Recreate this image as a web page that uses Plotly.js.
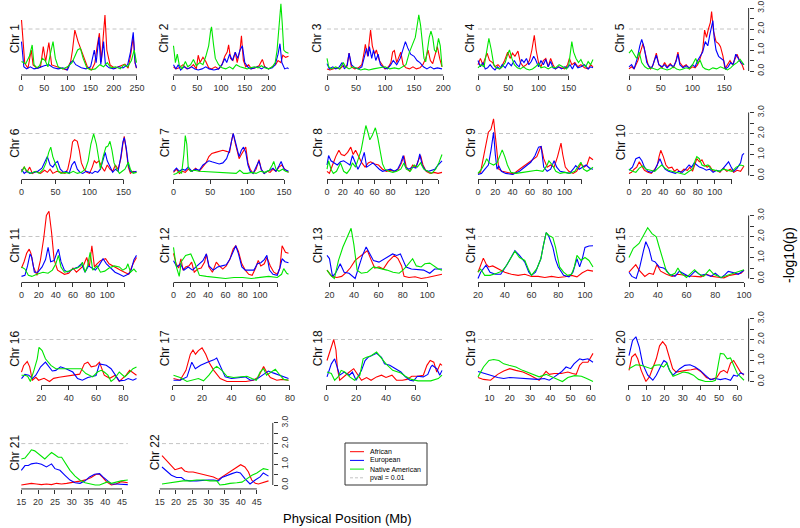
<!DOCTYPE html>
<html><head><meta charset="utf-8">
<script src="https://cdn.plot.ly/plotly-3.0.1.min.js"></script>
<style>html,body{margin:0;padding:0;background:#fff}#chart{width:800px;height:528px}</style>
</head><body><div id="chart"></div>
<script>
// ---- data: [position (Mb), -log10(p)] ----
const afr1=[[1,2.43],[8,0.37],[15,0.13],[22,1.0],[26,0.29],[35,0.13],[42,0.2],[48,1.16],[53,0.44],[60,1.35],[66,0.29],[76,0.2],[87,0.13],[98,0.05],[107,0.44],[111,1.0],[116,1.95],[123,1.4],[134,0.76],[143,0.2],[152,0.05],[159,0.37],[164,1.16],[169,1.8],[173,0.44],[177,1.48],[181,2.67],[185,1.0],[192,0.29],[202,0.13],[213,0.24],[224,0.33],[231,0.13],[237,0.84],[242,1.63],[246,0.37],[249,0.13]];
const eur1=[[1,1.4],[6,0.2],[12,0.1],[20,0.2],[28,0.1],[38,0.15],[50,0.25],[60,0.3],[70,0.15],[80,0.1],[90,0.15],[100,0.05],[107,0.4],[112,0.5],[118,0.3],[130,0.15],[140,0.1],[150,0.2],[155,0.7],[158,1.0],[162,0.4],[166,1.2],[168,1.6],[172,0.3],[176,0.9],[178,1.4],[182,0.3],[190,0.15],[200,0.1],[210,0.2],[220,0.15],[230,0.3],[236,0.9],[240,1.5],[242,1.84],[246,0.4],[249,0.15]];
const nam1=[[1,0.45],[10,0.35],[18,0.7],[24,1.24],[28,0.3],[34,0.15],[40,0.25],[46,0.6],[52,0.5],[58,0.2],[64,0.9],[69,1.4],[74,0.6],[80,0.2],[90,0.1],[100,0.2],[110,0.4],[116,0.7],[122,1.0],[128,1.08],[134,0.6],[142,0.15],[150,0.05],[160,0.1],[170,0.3],[178,0.2],[186,0.4],[194,0.15],[204,0.2],[214,0.1],[222,0.3],[230,0.2],[238,0.5],[244,1.0],[249,0.4]];

const afr2=[[0,0.2],[5,0.1],[12,0.15],[20,0.3],[28,0.1],[35,0.15],[42,0.3],[48,0.1],[52,0.75],[56,0.4],[62,0.65],[68,0.45],[74,0.15],[80,0.1],[88,0.2],[95,0.1],[102,0.3],[108,0.7],[113,0.9],[116,1.25],[120,0.6],[125,0.5],[130,0.9],[134,0.4],[140,1.0],[143,1.68],[147,0.5],[152,0.2],[158,0.3],[164,0.1],[172,0.15],[180,0.25],[187,0.55],[192,0.2],[200,0.1],[208,0.2],[215,0.3],[220,0.5],[226,0.4],[230,0.75],[236,0.65],[242,0.7]];
const eur2=[[0,0.3],[5,0.1],[10,0.3],[15,0.05],[22,0.2],[30,0.1],[38,0.2],[45,0.1],[52,0.05],[60,0.1],[68,0.2],[75,0.1],[85,0.05],[95,0.1],[102,0.3],[108,0.6],[112,0.4],[118,0.8],[124,0.5],[130,0.9],[135,0.6],[140,1.0],[145,1.2],[150,0.4],[156,0.2],[162,0.1],[170,0.15],[178,0.2],[185,0.1],[192,0.2],[200,0.1],[208,0.15],[214,0.3],[220,0.8],[224,1.3],[228,0.4],[234,0.1],[240,0.15],[242,0.1]];
const nam2=[[0,1.2],[4,0.4],[8,0.8],[12,0.3],[18,0.1],[25,0.45],[30,0.2],[36,0.3],[42,0.55],[48,0.25],[55,0.4],[62,0.3],[68,0.7],[74,1.2],[78,1.9],[80,2.1],[84,1.3],[88,0.6],[95,0.3],[102,0.15],[110,0.1],[118,0.2],[125,0.1],[132,0.3],[140,0.2],[148,0.15],[155,0.1],[162,0.15],[170,0.2],[178,0.15],[185,0.25],[192,0.15],[200,0.1],[208,0.2],[214,0.4],[218,1.0],[222,2.3],[226,3.2],[229,2.2],[232,1.0],[236,0.9],[242,0.85]];

const afr3=[[0,0.1],[5,0.05],[10,0.1],[16,0.15],[22,0.1],[28,0.25],[34,0.2],[38,0.85],[42,0.2],[48,0.1],[54,0.15],[60,0.3],[64,0.9],[66,1.27],[70,0.7],[75,1.95],[78,1.2],[82,0.8],[85,1.0],[90,0.5],[95,0.3],[100,0.1],[106,0.2],[110,0.4],[113,0.9],[116,0.97],[120,0.4],[124,0.7],[127,0.9],[131,0.3],[136,0.15],[142,0.1],[148,0.2],[154,0.1],[160,0.15],[165,0.3],[170,0.6],[174,1.0],[178,0.5],[182,0.35],[186,0.8],[190,1.16],[194,0.6],[198,0.2]];
const eur3=[[0,0.35],[4,0.1],[10,0.2],[15,0.1],[20,0.15],[26,0.4],[30,0.1],[35,0.3],[38,0.85],[42,0.3],[48,0.15],[54,0.1],[60,0.2],[65,0.8],[68,1.08],[71,0.7],[73,1.16],[77,0.6],[80,1.0],[84,0.5],[88,0.8],[92,0.3],[98,0.15],[104,0.1],[110,0.3],[114,0.5],[120,0.3],[126,0.6],[131,1.0],[135,1.4],[139,1.1],[144,0.8],[150,0.7],[155,0.5],[160,0.4],[166,0.2],[172,0.1],[178,0.2],[184,0.1],[190,0.15],[198,0.1]];
const nam3=[[0,0.6],[3,0.2],[8,0.1],[15,0.2],[22,0.1],[28,0.4],[32,0.2],[38,0.1],[45,0.2],[52,0.1],[58,0.05],[65,0.1],[72,0.05],[80,0.1],[90,0.15],[100,0.2],[108,0.1],[116,0.15],[124,0.1],[130,0.2],[136,0.3],[142,0.9],[148,1.3],[152,1.6],[156,2.3],[158,2.67],[161,2.2],[164,1.3],[167,0.6],[170,0.44],[173,1.0],[176,1.6],[179,1.9],[182,1.6],[185,1.0],[188,0.9],[192,1.55],[195,1.2],[198,0.2]];

const afr4=[[0,0.3],[4,0.6],[8,0.3],[12,0.6],[15,0.85],[19,0.5],[24,0.4],[28,0.2],[33,0.3],[38,0.15],[44,0.5],[49,0.9],[53,0.6],[57,0.85],[61,0.7],[66,0.95],[70,0.4],[75,0.2],[80,0.3],[85,0.5],[89,1.0],[93,1.7],[96,1.0],[100,0.4],[104,0.2],[108,0.5],[112,0.6],[116,0.2],[120,0.6],[124,0.3],[128,0.1],[133,0.2],[138,0.15],[143,0.1],[148,0.3],[151,0.6],[155,0.3],[160,0.4],[165,0.2],[170,0.3],[176,0.15],[182,0.1],[186,0.3],[190,0.2]];
const eur4=[[0,0.5],[4,0.2],[8,0.4],[12,0.1],[16,0.15],[20,0.3],[24,0.15],[28,0.05],[32,0.2],[36,0.1],[40,0.3],[45,0.15],[50,0.4],[55,0.25],[60,0.5],[64,0.3],[68,0.2],[72,0.55],[76,0.4],[80,0.6],[84,0.3],[88,0.45],[92,0.7],[95,0.55],[100,0.2],[104,0.5],[108,0.3],[112,0.55],[116,0.2],[120,0.45],[124,0.15],[128,0.1],[133,0.2],[138,0.1],[143,0.2],[148,0.15],[152,0.3],[156,0.1],[160,0.35],[165,0.15],[170,0.2],[176,0.3],[182,0.1],[186,0.2],[190,0.15]];
const nam4=[[0,0.15],[5,0.3],[10,0.2],[14,0.9],[18,1.55],[22,1.0],[26,0.3],[30,0.15],[35,0.1],[40,0.2],[45,0.4],[49,0.8],[52,1.0],[56,0.6],[60,0.3],[65,0.15],[70,0.1],[75,0.2],[80,0.1],[85,0.05],[90,0.1],[95,0.2],[100,0.35],[104,0.15],[110,0.2],[116,0.1],[122,0.2],[128,0.15],[134,0.3],[140,0.2],[146,0.1],[150,0.3],[153,1.0],[155,1.4],[158,0.9],[162,0.6],[166,0.4],[170,0.55],[174,0.3],[178,0.2],[182,0.45],[186,0.3],[190,0.55]];

const afr5=[[0,0.1],[4,0.2],[8,0.1],[14,0.5],[18,0.9],[22,1.3],[26,0.8],[30,0.3],[34,0.1],[38,0.3],[43,0.85],[47,0.3],[52,0.15],[56,0.4],[60,0.2],[65,0.35],[70,0.15],[74,0.5],[77,0.9],[80,0.4],[85,0.2],[90,0.3],[95,0.1],[100,0.2],[104,0.15],[108,0.3],[112,0.6],[116,1.0],[119,1.95],[122,1.6],[125,2.0],[128,2.3],[130,2.83],[133,1.9],[137,1.4],[141,1.3],[144,1.16],[148,0.7],[151,0.1],[155,0.3],[159,0.5],[163,0.3],[167,0.6],[170,0.8],[174,0.5],[178,0.3],[181,0.05]];
const eur5=[[0,0.2],[4,0.3],[8,0.1],[13,0.6],[17,1.2],[20,1.5],[24,1.1],[28,0.4],[32,0.2],[36,0.15],[40,0.5],[43,0.75],[47,0.3],[52,0.2],[56,0.3],[60,0.15],[65,0.3],[70,0.2],[74,0.45],[77,0.8],[80,0.3],[85,0.15],[90,0.25],[95,0.15],[100,0.3],[104,0.2],[108,0.5],[112,0.7],[116,0.9],[120,1.4],[124,1.2],[127,1.7],[130,2.2],[132,2.4],[134,1.6],[137,1.0],[141,0.7],[145,0.6],[149,0.5],[152,0.1],[156,0.2],[160,0.4],[164,0.3],[168,0.8],[172,0.6],[176,0.4],[181,0.3]];
const nam5=[[0,0.85],[4,1.0],[8,0.8],[12,0.6],[16,0.9],[20,0.4],[25,0.2],[30,0.1],[35,0.15],[40,0.1],[45,0.05],[50,0.15],[55,0.1],[60,0.05],[65,0.1],[70,0.2],[75,0.1],[80,0.05],[85,0.1],[90,0.15],[95,0.1],[100,0.3],[105,0.6],[108,0.35],[112,0.5],[116,0.2],[120,0.1],[126,0.05],[132,0.15],[138,0.1],[144,0.2],[150,0.1],[155,0.05],[160,0.15],[165,0.3],[170,0.4],[175,0.55],[181,0.3]];

const afr6=[[0,0.2],[4,0.4],[8,0.15],[12,0.4],[16,0.1],[22,0.2],[28,0.1],[34,0.25],[38,0.15],[42,0.3],[46,0.1],[52,0.2],[58,0.15],[64,0.1],[68,0.3],[72,0.9],[75,1.6],[78,1.7],[82,1.63],[85,1.2],[88,0.6],[92,0.3],[96,0.15],[100,0.1],[104,0.4],[107,0.7],[110,0.6],[114,0.7],[118,0.4],[122,0.2],[126,0.5],[130,0.3],[134,0.2],[138,0.5],[142,0.3],[146,0.8],[149,1.5],[151,1.86],[154,1.2],[157,0.4],[160,0.1],[164,0.2],[169,0.15]];
const eur6=[[0,0.3],[4,0.1],[8,0.2],[12,0.1],[18,0.15],[24,0.2],[30,0.35],[35,0.7],[38,0.9],[42,0.5],[46,0.4],[50,0.6],[53,0.67],[57,0.3],[62,0.15],[66,0.2],[70,0.1],[74,0.5],[78,0.67],[82,0.3],[86,0.15],[90,0.1],[95,0.2],[100,0.15],[104,0.1],[108,0.2],[112,0.15],[116,0.3],[120,0.8],[123,1.1],[126,0.7],[130,0.4],[134,0.15],[138,0.3],[142,0.2],[146,0.9],[149,1.6],[151,1.8],[154,1.3],[157,0.5],[160,0.2],[164,0.15],[169,0.2]];
const nam6=[[0,0.15],[4,0.4],[8,0.2],[14,0.1],[20,0.2],[26,0.1],[32,0.3],[36,0.6],[40,1.1],[43,1.35],[46,0.9],[50,0.5],[54,0.2],[58,0.1],[64,0.15],[70,0.1],[76,0.2],[82,0.1],[88,0.15],[94,0.3],[98,0.7],[102,1.5],[106,1.98],[110,1.5],[113,0.8],[116,0.3],[120,0.9],[124,1.35],[127,1.4],[130,1.63],[133,1.2],[136,0.6],[140,0.3],[144,0.1],[148,0.2],[152,0.3],[155,0.5],[157,0.63],[160,0.3],[164,0.1],[169,0.15]];

const afr7=[[0,0.15],[4,0.3],[8,0.1],[12,0.2],[16,0.15],[20,0.3],[25,0.2],[30,0.35],[35,0.2],[40,0.4],[44,0.6],[48,0.9],[52,1.05],[57,1.1],[62,1.15],[67,1.2],[72,1.15],[76,1.1],[79,1.7],[81,2.0],[84,1.5],[87,1.0],[89,0.8],[92,1.0],[95,1.2],[98,1.35],[101,0.6],[104,0.3],[108,0.1],[112,0.3],[116,0.75],[119,0.3],[123,0.1],[127,0.2],[131,0.15],[135,0.3],[139,0.2],[143,0.4],[147,0.5],[151,0.3],[156,0.15]];
const eur7=[[0,0.2],[4,0.35],[8,0.2],[12,0.3],[16,0.25],[20,0.4],[25,0.2],[30,0.3],[35,0.25],[40,0.5],[44,0.6],[48,0.7],[52,0.65],[57,0.6],[62,0.55],[67,0.6],[72,0.8],[76,1.2],[79,1.7],[81,2.0],[84,1.6],[87,1.1],[89,0.9],[92,1.2],[95,1.35],[98,1.1],[101,0.5],[104,0.2],[108,0.1],[112,0.4],[116,0.7],[119,0.3],[123,0.1],[127,0.2],[131,0.25],[135,0.35],[139,0.2],[143,0.45],[146,0.67],[150,0.3],[156,0.2]];
const nam7=[[0,0.05],[4,0.1],[8,0.2],[11,0.1],[14,1.0],[16,1.9],[18,1.5],[20,0.4],[23,0.2],[28,0.25],[35,0.2],[45,0.18],[55,0.15],[65,0.15],[75,0.12],[85,0.1],[90,0.25],[95,0.1],[100,0.1],[106,0.15],[112,0.1],[118,0.2],[124,0.15],[130,0.25],[134,0.5],[136,0.67],[139,0.3],[143,0.2],[148,0.3],[152,0.2],[156,0.15]];

const afr8=[[0,0.2],[3,0.1],[7,0.5],[11,0.9],[15,1.2],[18,1.0],[22,0.95],[26,1.1],[30,1.35],[33,1.0],[36,1.2],[40,0.9],[44,0.6],[48,0.4],[52,0.6],[55,0.65],[60,0.55],[65,0.5],[70,0.3],[75,0.2],[80,0.25],[85,0.2],[90,0.3],[94,0.6],[97,0.95],[100,0.4],[104,0.2],[108,0.5],[112,0.4],[115,0.7],[118,0.95],[121,0.5],[125,0.2],[130,0.1],[135,0.15],[140,0.1],[145,0.15]];
const eur8=[[0,0.5],[2,0.95],[5,0.7],[9,0.6],[13,0.5],[17,0.65],[21,0.7],[25,0.6],[29,0.5],[32,0.95],[35,0.7],[39,0.3],[43,0.6],[47,1.1],[50,0.4],[54,0.5],[58,0.6],[62,0.45],[66,0.3],[70,0.2],[75,0.25],[80,0.3],[85,0.2],[89,0.3],[93,0.6],[96,0.95],[99,0.4],[103,0.3],[108,0.4],[112,0.35],[115,0.7],[117,1.03],[120,0.5],[124,0.25],[128,0.2],[132,0.25],[136,0.3],[140,0.5],[145,0.7]];
const nam8=[[0,0.3],[2,0.7],[5,0.3],[8,0.1],[12,0.2],[17,0.6],[21,0.2],[25,0.1],[29,0.3],[32,0.6],[36,0.4],[40,0.8],[43,1.2],[46,1.8],[49,2.38],[52,2.0],[54,1.7],[57,1.9],[61,2.27],[64,1.8],[67,1.2],[70,0.55],[73,0.3],[78,0.2],[83,0.15],[88,0.2],[93,0.3],[97,0.6],[100,0.3],[105,0.2],[110,0.5],[114,0.4],[118,0.6],[122,0.3],[127,0.2],[132,0.1],[137,0.3],[141,0.6],[145,1.0]];

const afr9=[[0,0.1],[3,0.16],[6,0.8],[10,1.7],[12,2.06],[15,2.2],[18,2.7],[20,1.9],[22,1.0],[24,0.3],[28,0.2],[34,0.15],[41,0.08],[48,0.3],[55,0.5],[62,0.7],[68,0.9],[71,1.2],[73,1.4],[76,0.8],[80,0.4],[84,0.5],[88,0.4],[92,0.9],[95,1.3],[96,1.54],[98,1.0],[101,0.4],[105,0.2],[110,0.1],[114,0.2],[119,0.55],[123,0.4],[126,0.5],[129,0.87],[133,0.75]];
const eur9=[[0,0.05],[4,0.1],[8,0.3],[12,0.5],[15,1.2],[18,2.06],[20,1.0],[22,0.3],[24,0.47],[27,0.2],[32,0.1],[40,0.05],[48,0.2],[55,0.45],[61,0.63],[66,0.95],[70,1.35],[73,1.38],[76,0.4],[80,0.2],[84,0.3],[88,0.7],[91,0.4],[95,0.2],[100,0.15],[106,0.1],[110,0.3],[113,0.47],[117,0.3],[121,0.4],[125,0.5],[129,0.35],[133,0.3]];
const nam9=[[0,0.1],[4,0.3],[8,0.6],[10,0.8],[13,0.6],[18,0.5],[22,0.6],[26,1.03],[28,1.22],[31,0.9],[34,0.5],[38,0.15],[44,0.1],[52,0.15],[60,0.2],[68,0.25],[75,0.2],[80,0.5],[82,0.7],[86,0.5],[90,0.2],[95,0.1],[100,0.15],[106,0.1],[112,0.2],[117,0.5],[119,0.63],[122,0.3],[126,0.2],[130,0.3],[133,0.4]];

const afr10=[[0,0.1],[3,0.15],[6,0.3],[9,0.4],[12,0.65],[15,0.45],[18,0.25],[22,0.15],[26,0.1],[30,0.3],[33,0.5],[35,0.9],[37,1.2],[40,0.9],[43,0.5],[46,0.35],[50,0.4],[53,0.2],[56,0.3],[60,0.15],[64,0.3],[68,0.25],[71,0.4],[74,0.2],[77,0.6],[79,0.8],[82,0.65],[85,0.75],[88,0.5],[91,0.4],[94,0.45],[98,0.2],[102,0.25],[106,0.15],[110,0.35],[114,0.2],[118,0.3],[122,0.15],[126,0.25],[130,0.2],[134,0.45]];
const eur10=[[0,0.25],[4,0.4],[8,0.8],[12,0.87],[15,0.7],[18,0.4],[22,0.2],[26,0.15],[30,0.25],[33,0.5],[36,0.8],[39,0.5],[42,0.3],[46,0.2],[50,0.15],[54,0.1],[58,0.2],[62,0.15],[66,0.3],[70,0.5],[73,0.4],[76,0.6],[79,0.5],[82,0.4],[86,0.35],[90,0.25],[94,0.3],[98,0.15],[102,0.25],[106,0.2],[110,0.35],[113,0.5],[116,0.65],[119,0.4],[122,0.2],[126,0.35],[130,0.6],[132,0.97],[134,1.05]];
const nam10=[[0,0.3],[4,0.2],[8,0.15],[12,0.35],[16,0.45],[20,0.3],[25,0.25],[30,0.2],[34,0.35],[38,0.5],[42,0.35],[46,0.25],[50,0.2],[55,0.15],[60,0.1],[65,0.05],[70,0.2],[74,0.3],[77,0.7],[79,0.9],[82,0.8],[85,0.5],[88,0.45],[92,0.5],[96,0.3],[100,0.25],[105,0.2],[110,0.3],[115,0.25],[120,0.2],[125,0.4],[130,0.5],[134,0.45]];

const afr11=[[0,0.5],[3,0.8],[6,1.2],[9,1.4],[11,1.2],[14,0.55],[18,0.15],[22,0.86],[26,1.95],[29,3.0],[32,3.2],[35,2.2],[38,0.9],[42,0.4],[46,0.3],[50,0.2],[55,0.25],[60,0.5],[64,0.3],[68,0.45],[72,0.6],[76,1.0],[79,0.55],[82,1.56],[85,0.55],[88,0.7],[92,0.85],[95,0.9],[98,0.94],[102,0.7],[106,0.6],[110,0.5],[115,0.4],[120,0.3],[125,0.2],[130,0.7],[134,1.0]];
const eur11=[[0,0.1],[4,0.15],[7,0.6],[10,1.17],[12,1.0],[15,0.3],[19,0.3],[24,0.55],[28,0.9],[31,1.48],[34,0.8],[38,0.85],[41,1.2],[43,1.4],[46,0.8],[50,0.4],[54,0.3],[60,0.45],[66,0.55],[70,0.7],[74,0.3],[78,0.6],[82,0.5],[86,0.4],[90,0.6],[95,0.94],[99,0.7],[104,0.5],[109,0.3],[114,0.2],[119,0.1],[124,0.2],[127,0.3],[131,0.9],[134,1.1]];
const nam11=[[0,0.55],[4,0.45],[8,0.15],[12,0.1],[18,0.2],[25,0.3],[31,0.25],[36,0.4],[40,0.7],[43,1.1],[46,0.55],[50,0.3],[55,0.35],[60,0.45],[65,0.5],[69,0.6],[71,0.78],[74,0.3],[77,0.6],[80,1.25],[83,0.4],[88,0.6],[92,0.3],[97,0.35],[102,0.5],[108,0.6],[114,0.55],[118,0.4],[122,0.5],[124,0.7],[127,0.3],[131,0.45],[134,0.3]];

const afr12=[[0,1.2],[3,0.7],[6,0.5],[8.6,0.94],[11,0.4],[14,0.55],[18,0.6],[21,0.78],[24,0.3],[28,0.45],[32,0.5],[36,0.78],[38,1.17],[41,0.55],[45,0.3],[49.5,0.78],[53,0.6],[57,0.45],[61,0.6],[65,0.9],[69,1.4],[72,1.56],[75,1.3],[79,0.7],[83,0.4],[87,0.2],[91,0.15],[95,0.5],[98,0.86],[101,0.6],[105,0.7],[108,1.0],[112,0.6],[116,0.3],[120,0.2],[123,0.5],[125.6,1.56],[129.5,1.25],[133,1.2]];
const eur12=[[0,0.85],[4,0.55],[8,0.7],[12,0.4],[17,0.55],[22,0.4],[26,0.55],[30,0.7],[34,0.85],[38,1.17],[41,0.6],[46,0.4],[51,0.55],[56,0.6],[61,0.65],[65,0.9],[69,1.3],[72,1.56],[75,1.2],[79,0.55],[83,0.4],[88,0.4],[93,0.4],[97,0.7],[101,0.75],[105,0.9],[108,1.1],[111,0.4],[115,0.2],[120,0.15],[123,0.5],[125.6,0.94],[129,0.8],[133,0.75]];
const nam12=[[0,1.48],[3,0.6],[6.6,0.1],[9,0.8],[14,1.1],[20,1.17],[25,0.7],[30,0.15],[38,0.1],[48,0.05],[60,0.0],[70,0.05],[80,0.05],[90,0.0],[100,0.05],[110,0.1],[120,0.05],[125,0.2],[127.5,0.47],[131,0.25],[133,0.2]];

const afr13=[[18,0.4],[22,0.1],[26,0.05],[30,0.1],[34,0.3],[37,0.5],[41,0.86],[44,1.0],[47,1.15],[51,1.33],[54,0.9],[57,0.5],[60.5,0.55],[64,0.45],[68,0.8],[71,1.0],[73,1.1],[76,0.95],[79,0.6],[81,0.1],[85,0.05],[90,0.08],[95,0.0],[100,0.05],[105,0.1],[109,0.15],[112,0.2]];
const eur13=[[18,1.1],[20,0.95],[22.5,0.1],[25,0.25],[28.8,0.7],[32,0.3],[36,0.25],[41,0.0],[44,0.55],[47,1.1],[50,1.5],[53,1.2],[56,0.85],[60.5,0.78],[64,0.9],[68,1.05],[71.6,1.17],[75,1.1],[78,1.17],[80,0.9],[82.6,0.55],[87,0.45],[92,0.42],[97,0.4],[102,0.25],[106,0.45],[112,0.45]];
const nam13=[[18,0.4],[21,0.15],[24,0.0],[27.4,0.86],[31,1.5],[35.7,2.19],[37.7,2.39],[40,1.6],[42.6,0.4],[46,0.25],[51,0.3],[56,0.55],[62,0.47],[67,0.4],[72,0.3],[77,0.25],[80,0.4],[82.6,0.55],[88,0.94],[91,0.6],[95,0.55],[98,0.7],[102,0.73],[105,0.6],[109,0.45],[112,0.4]];

const afr14=[[20,0.3],[22,0.6],[24,0.97],[26,0.7],[28,0.55],[31,0.6],[34,0.5],[37,0.4],[40,0.3],[45,0.2],[50,0.15],[55,0.2],[60,0.1],[65,0.1],[70,0.05],[75,0.1],[80,0.05],[85,0.08],[90,0.15],[94,0.08],[98,0.27],[102,0.4],[106,0.35]];
const eur14=[[20,0.0],[22,0.3],[26,0.63],[29,0.3],[33,0.2],[37,0.2],[41.4,0.63],[45,1.0],[47.6,1.33],[51,1.1],[55,0.78],[58,0.3],[60,0.15],[63,0.3],[67,0.94],[69,1.6],[71,2.19],[73,2.0],[76,1.48],[78,0.9],[80,0.55],[84,0.15],[88,0.08],[91,0.3],[94,0.94],[96,0.55],[98,0.94],[100,1.48],[103,1.55],[106,1.56]];
const nam14=[[20,0.3],[22,0.45],[25,0.15],[29,0.15],[34,0.25],[38,0.35],[41.4,0.63],[45,1.0],[47.6,1.3],[51,1.0],[55,0.86],[58,0.4],[60,0.15],[64,0.47],[67,0.94],[69,1.6],[71,2.19],[73,2.05],[76,1.95],[78,1.48],[81,0.55],[84,0.3],[87,0.15],[90,0.2],[92,0.55],[94,1.1],[97,0.86],[100,1.0],[103,0.86],[106,0.55]];

const afr15=[[20,0.3],[22,0.45],[24.7,0.66],[27,0.4],[31,0.1],[34,0.25],[37,0.2],[39.4,0.66],[42,0.35],[46,0.2],[50,0.1],[54,0.2],[58,0.15],[62,0.12],[66,0.1],[70,0.08],[74,0.2],[78,0.1],[82,0.06],[86,0.03],[90,0.15],[94,0.2],[98,0.25],[100,0.4]];
const eur15=[[20,0.3],[22,0.1],[25,0.0],[27.5,0.55],[30,1.3],[31.7,1.75],[34,1.4],[36,0.85],[38,0.8],[41,0.55],[44,0.5],[45.7,0.42],[48,0.2],[52,0.1],[55,0.35],[59,0.2],[62,0.08],[66,0.35],[70,0.15],[73,0.2],[77,0.1],[80,0.25],[84,0.03],[87,0.2],[89,0.34],[93,0.27],[96,0.2],[100,0.39]];
const nam15=[[20,1.0],[21,1.13],[23,1.44],[27,1.67],[30.5,2.14],[33,2.42],[36,2.14],[39,1.98],[41,1.5],[43.6,0.9],[46,0.35],[49,0.15],[52,0.25],[54,0.5],[56,0.27],[60,0.05],[65.6,0.42],[69,0.2],[72,0.1],[76,0.42],[79,0.2],[84,0.05],[88,0.14],[92,0.23],[96,0.3],[100,0.42]];

const afr16=[[5.5,0.45],[7,0.75],[9.7,0.95],[11.5,0.7],[13.4,0.06],[16,0.2],[18,0.06],[22,0.15],[26,0.0],[29,0.15],[33,0.2],[38,0.25],[43,0.3],[48,0.35],[51.5,0.84],[54,0.92],[56.5,0.7],[60,0.75],[62.5,0.92],[66,0.3],[70,0.15],[74,0.3],[77,0.0],[82,0.3],[84.6,0.53],[89.6,0.3]];
const eur16=[[5.5,0.14],[8,0.34],[10.8,0.3],[13.4,0.14],[16,0.3],[19.5,0.7],[23,0.92],[25.6,0.7],[28,0.5],[30.6,0.53],[34,0.7],[38,0.61],[43,0.45],[46.5,0.14],[50,0.06],[54,0.19],[57.6,0.25],[60,0.28],[62.5,0.84],[65,0.81],[67.5,0.77],[71,0.61],[75,0.22],[77,0.03],[81,0.06],[83.5,0.14],[87,0.06],[89.6,0.14]];
const nam16=[[5.5,0.3],[8,0.3],[10,0.25],[12,0.0],[14.6,0.53],[17,1.08],[18.3,1.63],[20.6,1.47],[23,1.08],[27,0.77],[30.6,0.61],[35,0.61],[40,0.61],[45,0.61],[49,0.61],[52.6,0.38],[57.6,0.22],[61,0.45],[63.8,0.53],[66,0.45],[68.7,0.3],[71,0.0],[73.6,0.14],[77,0.45],[81,0.22],[84.6,0.45],[87,0.61],[89.6,0.69]];

const afr17=[[0.5,0.14],[5,0.06],[9,0.53],[12,1.3],[13.8,1.5],[15.5,1.3],[17.5,1.47],[20,1.6],[22.5,1.3],[24.7,0.92],[28,0.53],[32.4,0.14],[37,0.0],[45,0.0],[50,0.0],[55,0.06],[58.5,0.22],[62,0.72],[64,0.45],[66.6,0.19],[71,0.06],[75,0.1],[79,0.06]];
const eur17=[[0.5,0.06],[5,0.06],[9.7,0.22],[13,0.92],[15.4,0.61],[19,0.77],[23.6,0.92],[28,1.03],[30,1.12],[32.4,0.77],[35.8,0.22],[40,0.14],[45,0.19],[49.5,0.22],[53,0.06],[57,0.1],[62,0.34],[65.3,0.5],[68.5,0.41],[73,0.3],[79,0.14]];
const nam17=[[0.5,0.3],[5,0.19],[9.7,0.0],[14,0.06],[17.5,0.14],[21,0.03],[24.7,0.3],[28,0.61],[30,0.72],[33.5,0.53],[37,0.25],[41.5,0.19],[46,0.22],[50.6,0.25],[54,0.14],[57,0.06],[59.6,0.45],[62,0.61],[64,0.3],[67.6,0.45],[70,0.58],[72.3,0.38],[75.7,0.1],[79,0.06]];

const afr18=[[0.5,1.0],[3.4,1.7],[5,2.0],[6.5,1.5],[7.5,0.61],[9,0.06],[12,0.22],[15.5,0.45],[18.4,0.61],[20,0.45],[23.6,0.06],[27,0.19],[30,0.06],[33.7,0.22],[37,0.3],[40,0.19],[44,0.3],[47,0.06],[51,0.06],[54,0.1],[57.3,0.25],[61,0.25],[65,0.3],[67.4,0.77],[69.6,1.0],[72,0.92],[74,0.45],[76.3,0.84],[77.5,0.77]];
const eur18=[[0.5,0.22],[3.4,0.84],[5.6,1.08],[6.8,0.84],[9,0.3],[12,0.45],[15.5,0.3],[17.5,0.45],[20,0.06],[23.6,0.53],[26,1.0],[28,1.15],[30,1.23],[33.7,1.34],[37,1.15],[39,0.84],[42.5,0.77],[46,0.61],[50,0.45],[53,0.22],[56,0.06],[58.5,0.03],[61,0.25],[65,0.22],[68,0.34],[70,0.69],[71,0.77],[74,0.61],[76,0.3],[77.5,0.53]];
const nam18=[[0.5,0.45],[3.4,0.38],[5.6,0.06],[7.9,0.22],[10,0.53],[12.4,0.45],[15.7,0.22],[19,0.06],[22.5,0.3],[24.7,1.08],[27,1.15],[30,1.23],[33.7,1.4],[37,1.08],[40,0.84],[44.5,0.53],[50,0.4],[53,0.25],[57,0.1],[61.5,0.03],[66,0.02],[70,0.03],[75,0.14],[77.5,0.3]];

const afr19=[[4.3,0.19],[7,0.1],[10.5,0.06],[14,0.34],[17,0.5],[20,0.61],[23,0.53],[26.5,0.45],[30,0.3],[33,0.14],[34.5,0.06],[36,0.25],[37.9,0.48],[39.5,0.34],[42,0.38],[45.4,0.38],[48.7,0.45],[51,0.38],[52.8,0.34],[54.5,0.77],[56,0.92],[58.6,0.92],[60,1.15],[61.1,1.34]];
const eur19=[[4.3,0.48],[7,0.41],[10.5,0.3],[14,0.19],[17,0.14],[20,0.19],[23.6,0.17],[27,0.14],[30,0.1],[33.7,0.1],[37,0.14],[39.5,0.06],[42,0.22],[45.4,0.45],[47.8,0.69],[50,0.61],[51.7,0.84],[54.5,1.08],[56,1.03],[58.6,1.08],[61.1,0.92]];
const nam19=[[4.3,0.22],[7,0.69],[9.7,1.0],[12,1.05],[14.6,1.0],[17,0.84],[19.6,0.77],[23,0.69],[26.3,0.53],[30.4,0.38],[34.5,0.22],[37.9,0.34],[40.4,0.22],[43.7,0.1],[46,0.0],[48.7,0.19],[52,0.28],[55.4,0.25],[58,0.14],[61.1,0.0]];

const afr20=[[0.5,0.53],[2,1.16],[3.9,1.31],[5.3,1.08],[7.2,0.53],[9,0.14],[9.8,0.0],[11.7,0.22],[13.6,0.61],[15.5,1.08],[17.3,1.7],[19,1.9],[20.8,1.7],[22.7,1.08],[24.5,0.61],[26.4,0.45],[29,0.5],[31.8,0.53],[34.6,0.56],[37.7,0.61],[40.3,0.45],[43,0.19],[46,0.09],[48.7,0.19],[50.7,0.45],[52.6,0.53],[54.5,0.41],[56.3,0.88],[58,1.0],[60,0.69],[61.8,0.45],[63.7,0.3]];
const eur20=[[0.5,1.23],[2.4,1.94],[4.3,2.13],[6.2,1.63],[8,0.84],[10.8,0.3],[13.6,0.06],[15.5,0.3],[18.2,0.77],[19.7,1.0],[21,0.92],[22.8,0.53],[24.7,0.3],[26.6,0.45],[28.4,0.61],[31.2,0.77],[34,0.8],[36.8,0.69],[39.6,0.53],[42.4,0.3],[45.2,0.09],[48,0.14],[50.7,0.09],[53.5,0.14],[56.3,0.06],[58,0.3],[60,0.25],[61.8,0.41],[63.7,0.34]];
const nam20=[[0.5,0.61],[2.4,0.69],[4.3,0.8],[7.1,0.77],[9.9,0.69],[12.7,0.61],[14.5,0.77],[17.3,0.8],[19.5,0.69],[21.4,0.88],[22.8,0.53],[24.7,0.25],[27.5,0.34],[30.3,0.45],[33.1,0.41],[35.9,0.3],[38.7,0.1],[42.5,0.0],[46.2,0.0],[48,0.06],[49.8,0.92],[50.7,1.34],[52.6,1.31],[54.5,1.08],[56.3,1.12],[58,0.77],[60,0.38],[63.7,0.06]];

const afr21=[[15,0.0],[16.6,0.05],[18,0.08],[19.5,0.05],[21,0.02],[22.5,0.05],[24,0.02],[25.5,0.08],[27,0.05],[28.5,0.08],[30,0.11],[31.4,0.16],[32.9,0.2],[34.4,0.27],[35.8,0.36],[37.3,0.52],[38.3,0.52],[39.3,0.36],[40.3,0.16],[41.8,0.0],[43.2,0.05],[44.7,0.16],[46.7,0.11]];
const eur21=[[15,0.71],[16.1,0.94],[17.1,0.94],[18,1.02],[19.5,1.06],[21,1.0],[22.5,0.87],[24,1.02],[25,0.79],[26.5,0.71],[28,0.47],[29.5,0.24],[31,0.11],[32.5,0.08],[34,0.2],[35.3,0.39],[36.8,0.52],[38.3,0.55],[39.3,0.39],[40.3,0.24],[41.8,0.05],[43.2,0.05],[45.2,0.05],[46.7,0.02]];
const nam21=[[15,1.26],[16.1,1.3],[17.1,1.5],[18,1.7],[19,1.65],[20,1.53],[21,1.37],[22,1.26],[23,1.42],[24,1.57],[25,1.46],[26,1.34],[27,1.34],[28,1.1],[29.5,0.71],[31,0.43],[32.4,0.24],[34,0.11],[35.5,0.05],[37,0.0],[38.3,0.0],[39.8,0.11],[40.8,0.16],[41.8,0.08],[43.3,0.16],[44.7,0.2],[46.7,0.24]];

const afr22=[[15.7,1.42],[17.1,1.18],[18.6,0.94],[19.7,0.74],[20.7,0.79],[21.7,0.84],[22.7,0.68],[23.8,0.63],[25.3,0.63],[27.4,0.55],[29.5,0.47],[31.6,0.39],[33.1,0.27],[34.2,0.39],[35.7,0.55],[37.3,0.71],[38.8,0.87],[40,0.98],[41.3,0.87],[42.4,0.63],[43.4,0.24],[44.5,0.08],[45.5,0.05],[47,0.11],[48.6,0.2]];
const eur22=[[15.7,0.87],[17.1,0.68],[18.6,0.47],[20.2,0.36],[21.7,0.36],[22.7,0.24],[24.3,0.2],[26.4,0.2],[28.5,0.24],[30,0.24],[31.6,0.24],[33.1,0.2],[34.2,0.36],[35.7,0.47],[37.3,0.55],[38.8,0.63],[39.9,0.58],[41.3,0.31],[42.9,0.05],[44.5,0.24],[46,0.39],[47,0.58],[48.6,0.43]];
const nam22=[[15.7,0.05],[18,0.11],[20.2,0.16],[22.2,0.2],[24.3,0.2],[26.4,0.24],[28.5,0.24],[30.5,0.2],[32.6,0.2],[33.6,0.0],[35.2,0.03],[36.7,0.08],[38.8,0.11],[40.4,0.14],[42,0.31],[43.5,0.47],[45,0.58],[46.5,0.71],[47,0.79],[48.6,0.74]];

const african=[afr1,afr2,afr3,afr4,afr5,afr6,afr7,afr8,afr9,afr10,afr11,afr12,afr13,afr14,afr15,afr16,afr17,afr18,afr19,afr20,afr21,afr22];
const european=[eur1,eur2,eur3,eur4,eur5,eur6,eur7,eur8,eur9,eur10,eur11,eur12,eur13,eur14,eur15,eur16,eur17,eur18,eur19,eur20,eur21,eur22];
const nativeAmerican=[nam1,nam2,nam3,nam4,nam5,nam6,nam7,nam8,nam9,nam10,nam11,nam12,nam13,nam14,nam15,nam16,nam17,nam18,nam19,nam20,nam21,nam22];
const seriesNames=['African','European','Native American'];
const chrLabels=['Chr 1','Chr 2','Chr 3','Chr 4','Chr 5','Chr 6','Chr 7','Chr 8','Chr 9','Chr 10','Chr 11','Chr 12','Chr 13','Chr 14','Chr 15','Chr 16','Chr 17','Chr 18','Chr 19','Chr 20','Chr 21','Chr 22'];
const xTickVals=[[0,50,100,150,200,250],[0,50,100,150,200],[0,50,100,150,200],[0,50,100,150],[0,50,100,150],[0,50,100,150],[0,50,100,150],[0,20,40,60,80,100,120,140],[0,20,40,60,80,100,120],[0,20,40,60,80,100,120],[0,20,40,60,80,100,120],[0,20,40,60,80,100,120],[20,40,60,80,100],[20,40,60,80,100],[20,40,60,80,100],[20,40,60,80],[0,20,40,60,80],[0,20,40,60],[10,20,30,40,50,60],[0,10,20,30,40,50,60],[15,20,25,30,35,40,45],[15,20,25,30,35,40,45]];
const xTickText=[['0','50','100','150','200','250'],['0','50','100','150','200'],['0','50','100','150','200'],['0','50','100','150'],['0','50','100','150'],['0','50','100','150'],['0','50','100','150'],['0','20','40','60','80','','120',''],['0','20','40','60','80','100',''],['0','20','40','60','80','100',''],['0','20','40','60','80','100',''],['0','20','40','60','80','100',''],['20','40','60','80','100'],['20','40','60','80','100'],['20','40','60','80','100'],['20','40','60','80'],['0','20','40','60','80'],['0','20','40','60'],['10','20','30','40','50','60'],['0','10','20','30','40','50','60'],['15','20','25','30','35','40','45'],['15','20','25','30','35','40','45']];
const yTickVals=[0,0.5,1,1.5,2,2.5,3];
const yTickText=['0.0','','1.0','','2.0','','3.0'];
const pvalThreshold=2; // -log10(0.01)
const legendLabels=['African','European','Native American','pval = 0.01'];

// ---- styling / geometry ----
const colors=['#ff0000','#0000ff','#00e600'];
const FONT='Liberation Sans, Arial, Helvetica, sans-serif';
const Wd=800, Ht=528;
const colDataStart=[21.5,173.5,327,478,629], lastRowStart=[21.3,162];
const rowZero=[71,175.5,278.5,381.5,485];
const labelX=[15,164.5,317.5,470.5,620.5], lastLabelX=[15,154.5];
const YR=[-0.19,3.3];
const px=x=>x/Wd, py=y=>1-y/Ht;

const traces=[];
const layout={width:Wd,height:Ht,margin:{l:0,r:0,t:0,b:0},paper_bgcolor:'#ffffff',plot_bgcolor:'rgba(0,0,0,0)',
  showlegend:false,shapes:[],annotations:[],font:{family:FONT,color:'#000'}};

for(let i=0;i<22;i++){
  const row=Math.floor(i/5), col=i%5, last=row===4;
  const ds=last?lastRowStart[col]:colDataStart[col];
  const dw=last?106.5:115;
  const unit=last?20.7:21;
  const z=rowZero[row];
  const sets=[african[i],european[i],nativeAmerican[i]];
  const xs=[].concat(...sets.map(s=>s.map(p=>p[0])));
  const xmin=Math.min(...xs), xmax=Math.max(...xs), span=xmax-xmin;
  const pad=0.04*span, padPx=0.04*dw;
  const left=ds-padPx, right=ds+dw+padPx;
  const bottom=z+(-YR[0])*unit, top=z-YR[1]*unit;
  const r0=xmin-pad, r1=xmax+pad;
  const sfx=i===0?'':String(i+1);
  const showY=(col===4&&!last)||i===21;
  layout['xaxis'+sfx]={domain:[px(left),px(right)],range:[r0,r1],anchor:'y'+sfx,showgrid:false,zeroline:false,showline:false,
    tickmode:'array',tickvals:xTickVals[i],ticktext:xTickText[i],ticks:'outside',ticklen:4,tickwidth:1,tickcolor:'#333',tickangle:0,
    tickfont:{family:FONT,size:9,color:'#333'},fixedrange:true,automargin:false};
  layout['yaxis'+sfx]={domain:[py(bottom),py(top)],range:YR,anchor:'x'+sfx,showgrid:false,zeroline:false,showline:false,
    side:'right',showticklabels:showY,ticks:showY?'outside':'',ticklen:4,tickwidth:1,tickcolor:'#333',
    tickmode:'array',tickvals:yTickVals,ticktext:yTickText,tickangle:-90,tickfont:{family:FONT,size:8.5,color:'#333'},fixedrange:true,automargin:false};
  sets.forEach((s,k)=>{
    traces.push({type:'scatter',mode:'lines',x:s.map(p=>p[0]),y:s.map(p=>p[1]),xaxis:'x'+sfx,yaxis:'y'+sfx,
      name:seriesNames[k],line:{color:colors[k],width:1.1},hoverinfo:'skip'});
  });
  layout.shapes.push({type:'line',xref:'x'+sfx,yref:'y'+sfx,x0:xmin,x1:xmax,y0:pvalThreshold,y1:pvalThreshold,
    line:{color:'#c4c4c4',width:1,dash:'4px,3px'},layer:'below'});
  const tv=xTickVals[i];
  const toPx=v=>left+(v-r0)/(r1-r0)*(right-left);
  layout.shapes.push({type:'line',xref:'paper',yref:'paper',x0:px(toPx(tv[0])),x1:px(toPx(tv[tv.length-1])),y0:py(bottom),y1:py(bottom),
    line:{color:'#333',width:1}});
  if(showY){
    layout.shapes.push({type:'line',xref:'paper',yref:'paper',x0:px(right),x1:px(right),y0:py(z),y1:py(z-3*unit),line:{color:'#333',width:1}});
  }
  layout.annotations.push({xref:'paper',yref:'paper',x:px(last?lastLabelX[col]:labelX[col]),y:py((top+bottom)/2),text:chrLabels[i],
    showarrow:false,textangle:-90,xanchor:'center',yanchor:'middle',font:{family:FONT,size:12,color:'#111'}});
}

layout.annotations.push({xref:'paper',yref:'paper',x:px(347.5),y:py(518),text:'Physical Position (Mb)',showarrow:false,
  xanchor:'center',yanchor:'middle',font:{family:FONT,size:13,color:'#000'}});
layout.annotations.push({xref:'paper',yref:'paper',x:px(789),y:py(255),text:'-log10(p)',showarrow:false,textangle:-90,
  xanchor:'center',yanchor:'middle',font:{family:FONT,size:14,color:'#000'}});

const lg={x0:345,x1:427,y0:443,y1:485};
layout.shapes.push({type:'rect',xref:'paper',yref:'paper',x0:px(lg.x0),x1:px(lg.x1),y0:py(lg.y1),y1:py(lg.y0),
  line:{color:'#333',width:1},fillcolor:'#ffffff'});
const legColors=[colors[0],colors[1],colors[2],'#c4c4c4'];
legendLabels.forEach((t,k)=>{
  const yy=451.7+k*8.7;
  layout.shapes.push({type:'line',xref:'paper',yref:'paper',x0:px(lg.x0+5),x1:px(lg.x0+19),y0:py(yy),y1:py(yy),
    line:{color:legColors[k],width:1,dash:k===3?'3px,2px':'solid'}});
  layout.annotations.push({xref:'paper',yref:'paper',x:px(lg.x0+23),y:py(yy),text:t,showarrow:false,xanchor:'left',yanchor:'middle',
    font:{family:FONT,size:7,color:'#000'}});
});

Plotly.newPlot('chart',traces,layout,{staticPlot:true,displayModeBar:false});
</script>
</body></html>
